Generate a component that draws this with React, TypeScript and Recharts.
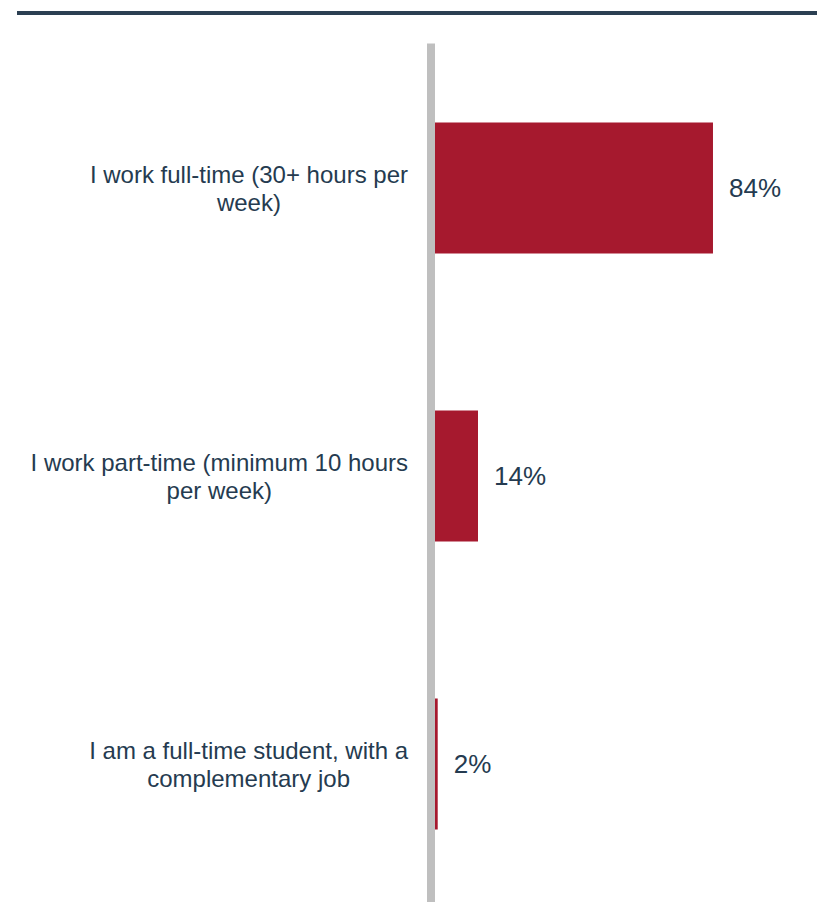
import React from "react";
import { BarChart, Bar, XAxis, YAxis, LabelList } from "recharts";

const categories = [
  "I work full-time (30+ hours per week)",
  "I work part-time (minimum 10 hours per week)",
  "I am a full-time student, with a complementary job",
];
const categoryLines = [
  ["I work full-time (30+ hours per", "week)"],
  ["I work part-time (minimum 10 hours", "per week)"],
  ["I am a full-time student, with a", "complementary job"],
];
const values = [84, 14, 2];
const valueLabels = ["84%", "14%", "2%"];

const data = categories.map((c, i) => ({
  name: c,
  value: values[i],
  label: valueLabels[i],
}));

const FONT = "'Liberation Sans', Arial, Helvetica, sans-serif";
const TEXT = "#253B50";
const BAR = "#A6192E";
const AXIS = "#BFBFBF";

let canvasCtx: CanvasRenderingContext2D | null = null;
function measure(text: string, size: number): number {
  if (!canvasCtx) {
    const c = document.createElement("canvas");
    canvasCtx = c.getContext("2d");
  }
  if (!canvasCtx) return text.length * size * 0.5;
  canvasCtx.font = `${size}px 'Liberation Sans', Arial, sans-serif`;
  return canvasCtx.measureText(text).width;
}

const CategoryTick = (props: any) => {
  const { y, payload } = props;
  const idx = categories.indexOf(payload.value);
  const lines = idx >= 0 ? categoryLines[idx] : [String(payload.value)];
  const size = 24;
  const lh = 28;
  const maxW = Math.max(...lines.map((l) => measure(l, size)));
  const right = 408;
  const cx = right - maxW / 2;
  const startY = y - ((lines.length - 1) * lh) / 2;
  return (
    <text
      x={cx}
      y={startY}
      textAnchor="middle"
      fill={TEXT}
      fontSize={size}
      fontFamily={FONT}
      dominantBaseline="central"
    >
      {lines.map((l, i) => (
        <tspan key={i} x={cx} y={startY + i * lh} dominantBaseline="central">
          {l}
        </tspan>
      ))}
    </text>
  );
};

export default function App() {
  return (
    <div style={{ position: "absolute", left: 0, top: 0, width: 817, height: 902, overflow: "hidden", background: "#fff" }}>
      <div
        style={{
          position: "absolute",
          left: 17,
          top: 11,
          width: 800,
          height: 4,
          background: "#2B3F52",
        }}
      />
      <div style={{ position: "absolute", left: 0, top: 0 }}>
        <BarChart
          width={817}
          height={910}
          data={data}
          layout="vertical"
          margin={{ top: 43.5, right: 50.3, bottom: 2.5, left: 0 }}
        >
          <XAxis type="number" domain={[0, 100]} hide />
          <YAxis
            type="category"
            dataKey="name"
            width={431}
            axisLine={{ stroke: AXIS, strokeWidth: 8 }}
            tickLine={false}
            tick={<CategoryTick />}
            interval={0}
          />
          <Bar dataKey="value" fill={BAR} barSize={131} isAnimationActive={false}>
            <LabelList
              dataKey="label"
              position="right"
              offset={16}
              fill={TEXT}
              fontSize={26}
              fontFamily={FONT}
            />
          </Bar>
        </BarChart>
      </div>
    </div>
  );
}
